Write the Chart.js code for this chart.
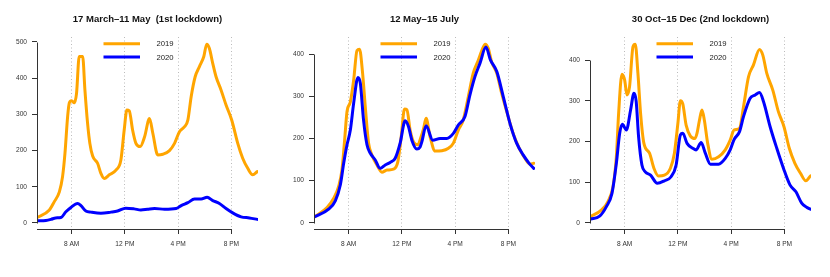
<!DOCTYPE html>
<html>
<head>
<meta charset="utf-8">
<script src="https://cdn.jsdelivr.net/npm/chart.js@4.4.1/dist/chart.umd.min.js"></script>
<style>
  html, body { margin: 0; padding: 0; background: #fff; }
  #wrap { position: relative; width: 830px; height: 277px; overflow: hidden; }
  canvas { position: absolute; top: 0; }
</style>
</head>
<body>
<div id="wrap">
  <canvas id="c1" width="277" height="277" style="left:0px"></canvas>
  <canvas id="c2" width="277" height="277" style="left:277px"></canvas>
  <canvas id="c3" width="277" height="277" style="left:553px"></canvas>
</div>
<script>
// hour of day (decimal) and count

// panel 1: 17 March - 11 May
const p1Hours2019 = [5.40, 6.33, 6.70, 7.08, 7.32, 7.50, 7.70, 7.83, 8.00, 8.20, 8.37, 8.57, 8.83, 9.00, 9.20, 9.37, 9.58, 9.95, 10.20, 10.45, 10.83, 11.33, 11.70, 11.95, 12.15, 12.33, 12.58, 12.83, 13.15, 13.48, 13.85, 14.10, 14.47, 14.85, 15.35, 15.73, 16.10, 16.48, 16.73, 16.98, 17.28, 17.60, 17.93, 18.15, 18.35, 18.60, 18.85, 19.23, 19.60, 20.03, 20.48, 20.85, 21.23, 21.60, 21.95];
const p1Vals2019  = [15, 36, 59, 86, 128, 192, 294, 332, 338, 332, 358, 460, 460, 367, 275, 220, 185, 165, 137, 123, 133, 146, 174, 257, 312, 310, 257, 220, 211, 238, 289, 248, 188, 190, 200, 220, 252, 266, 284, 349, 404, 432, 460, 494, 482, 441, 404, 367, 326, 284, 220, 179, 151, 133, 142];
const p1Hours2020 = [5.40, 6.07, 6.45, 6.80, 7.20, 7.57, 7.95, 8.45, 8.70, 9.07, 9.45, 10.20, 10.95, 11.45, 12.07, 12.70, 13.20, 13.70, 14.23, 14.98, 15.85, 16.23, 16.73, 17.23, 17.73, 18.18, 18.60, 19.10, 19.60, 20.10, 20.73, 21.35, 21.95];
const p1Vals2020  = [6, 7, 10, 14, 15, 31, 43, 54, 48, 33, 30, 27, 30, 33, 41, 39, 36, 38, 40, 38, 40, 48, 56, 66, 66, 71, 62, 54, 40, 28, 17, 14, 10];

// panel 2: 12 May - 15 July
const p2Hours2019 = [5.45, 6.38, 6.88, 7.25, 7.50, 7.70, 7.88, 8.13, 8.38, 8.63, 8.82, 9.05, 9.25, 9.50, 9.75, 10.13, 10.50, 10.88, 11.37, 11.70, 11.95, 12.20, 12.38, 12.62, 12.87, 13.20, 13.40, 13.62, 13.82, 14.12, 14.50, 15.00, 15.50, 15.87, 16.24, 16.61, 16.99, 17.36, 17.74, 18.07, 18.26, 18.49, 18.74, 19.13, 19.50, 19.91, 20.36, 20.81, 21.24, 21.61, 21.91];
const p2Vals2019  = [14, 36, 58, 86, 125, 196, 264, 287, 339, 409, 412, 355, 276, 189, 161, 137, 120, 125, 127, 145, 204, 270, 268, 220, 192, 185, 200, 222, 248, 204, 170, 171, 177, 189, 220, 244, 299, 355, 386, 414, 424, 414, 382, 355, 307, 260, 212, 177, 153, 139, 141];
const p2Hours2020 = [5.45, 6.50, 7.00, 7.38, 7.63, 7.88, 8.13, 8.38, 8.70, 8.88, 9.12, 9.38, 9.63, 10.00, 10.37, 10.75, 11.12, 11.50, 11.87, 12.25, 12.50, 12.75, 13.12, 13.37, 13.50, 13.82, 14.32, 14.87, 15.37, 15.87, 16.24, 16.74, 17.11, 17.49, 17.87, 18.31, 18.66, 19.13, 19.62, 20.12, 20.62, 21.11, 21.56, 21.91];
const p2Vals2020  = [14, 32, 52, 90, 141, 185, 220, 284, 345, 331, 244, 185, 165, 149, 129, 137, 143, 153, 189, 242, 228, 196, 175, 180, 192, 230, 196, 200, 200, 212, 232, 252, 303, 347, 379, 417, 386, 359, 299, 236, 189, 161, 141, 129];

// panel 3: 30 Oct - 15 Dec
const p3Hours2019 = [5.44, 6.25, 6.75, 7.13, 7.38, 7.55, 7.80, 8.00, 8.18, 8.37, 8.63, 8.80, 9.00, 9.20, 9.45, 9.87, 10.20, 10.54, 10.99, 11.44, 11.74, 12.00, 12.19, 12.37, 12.62, 12.94, 13.29, 13.44, 13.61, 13.81, 13.99, 14.24, 14.56, 15.06, 15.56, 15.93, 16.23, 16.63, 16.93, 17.31, 17.68, 18.13, 18.38, 18.68, 19.13, 19.55, 19.97, 20.37, 20.79, 21.22, 21.61, 21.96];
const p3Vals2019  = [15, 31, 52, 89, 162, 269, 365, 351, 314, 334, 433, 439, 367, 269, 195, 171, 134, 115, 117, 134, 171, 244, 300, 292, 240, 213, 207, 220, 250, 277, 252, 195, 156, 162, 179, 203, 228, 232, 285, 359, 388, 426, 412, 367, 326, 273, 236, 183, 146, 121, 103, 115];
const p3Hours2020 = [5.44, 6.12, 6.62, 7.05, 7.38, 7.63, 7.83, 8.13, 8.45, 8.70, 8.87, 9.05, 9.30, 9.55, 9.95, 10.45, 10.99, 11.49, 11.87, 12.19, 12.37, 12.69, 13.12, 13.37, 13.75, 14.06, 14.44, 15.06, 15.56, 15.93, 16.23, 16.63, 16.93, 17.43, 17.81, 18.13, 18.43, 18.93, 19.43, 19.93, 20.42, 20.87, 21.30, 21.67, 21.96];
const p3Vals2020  = [9, 16, 39, 72, 146, 220, 242, 228, 277, 318, 298, 211, 142, 125, 117, 97, 103, 113, 142, 216, 220, 195, 183, 179, 197, 171, 144, 144, 158, 179, 205, 224, 261, 306, 314, 320, 298, 236, 183, 134, 93, 76, 48, 38, 33];

const seriesLabels = ['2019', '2020'];
const xTickHours = [8, 12, 16, 20];
const xTickLabels = ['8 AM', '12 PM', '4 PM', '8 PM'];
const yTicks1 = [0, 100, 200, 300, 400, 500];
const yTicks23 = [0, 100, 200, 300, 400];

const ORANGE = '#FFA500';
const BLUE = '#0000FF';
const FONT = '"Liberation Sans", Arial, Helvetica, sans-serif';

function toPoints(hours, vals) {
    return hours.map((h, i) => ({ x: h, y: vals[i] }));
}

// axis lines the R way (only between end ticks) plus the boxless legend
const rDecor = {
    id: 'rDecor',
    afterDraw(chart, args, opts) {
        const { ctx, chartArea: a, scales: { x, y } } = chart;
        const yt = opts.yTicks;
        ctx.save();
        ctx.strokeStyle = '#333';
        ctx.lineWidth = 1;
        ctx.beginPath();
        const lx = Math.round(a.left) + 0.5;
        ctx.moveTo(lx, Math.round(y.getPixelForValue(yt[0])) + 0.5);
        ctx.lineTo(lx, Math.round(y.getPixelForValue(yt[yt.length - 1])) + 0.5);
        const by = Math.round(a.bottom) + 0.5;
        ctx.moveTo(a.left, by);
        ctx.lineTo(Math.round(x.getPixelForValue(xTickHours[xTickHours.length - 1])) + 1, by);
        ctx.stroke();

        // legend
        const rows = [43.7, 57];
        chart.data.datasets.forEach((ds, i) => {
            ctx.strokeStyle = ds.borderColor;
            ctx.lineWidth = 3;
            ctx.lineCap = 'butt';
            ctx.beginPath();
            ctx.moveTo(103.5, rows[i]);
            ctx.lineTo(140, rows[i]);
            ctx.stroke();
            ctx.fillStyle = '#222';
            ctx.font = '7.7px ' + FONT;
            ctx.textAlign = 'left';
            ctx.textBaseline = 'middle';
            ctx.fillText(ds.label, 156.5, rows[i] + 0.5);
        });
        ctx.restore();
    }
};

function makePanel(id, title, h19, v19, h20, v20, yMin, yMax, yTicks) {
    return new Chart(document.getElementById(id), {
        type: 'line',
        data: {
            datasets: [{
                label: seriesLabels[0],
                data: toPoints(h19, v19),
                borderColor: ORANGE,
                order: 2
            }, {
                label: seriesLabels[1],
                data: toPoints(h20, v20),
                borderColor: BLUE,
                order: 1
            }]
        },
        options: {
            responsive: false,
            animation: false,
            devicePixelRatio: 1,
            layout: { padding: { left: 0, right: 19, top: 0, bottom: 0 } },
            elements: {
                point: { radius: 0 },
                line: {
                    borderWidth: 3,
                    cubicInterpolationMode: 'monotone',
                    borderCapStyle: 'round',
                    borderJoinStyle: 'round',
                    fill: false
                }
            },
            plugins: {
                legend: { display: false },
                tooltip: { enabled: false },
                title: {
                    display: true,
                    text: title,
                    fullSize: false,
                    color: '#111',
                    font: { family: FONT, size: 9.5, weight: 'bold', lineHeight: 1.2 },
                    padding: { top: 13.3, bottom: 12.3 }
                },
                rDecor: { yTicks: yTicks }
            },
            scales: {
                x: {
                    type: 'linear',
                    min: 5.4,
                    max: 22,
                    afterBuildTicks: (s) => { s.ticks = xTickHours.map(v => ({ value: v })); },
                    afterFit: (s) => { s.height = 48; },
                    ticks: {
                        autoSkip: false,
                        maxRotation: 0,
                        padding: 6.3,
                        color: '#333',
                        font: { family: FONT, size: 6.6 },
                        callback: (v) => xTickLabels[xTickHours.indexOf(v)]
                    },
                    grid: {
                        color: '#bbbbbb',
                        tickColor: '#333',
                        tickLength: 5,
                        tickBorderDash: []
                    },
                    border: { display: false, dash: [1, 2.5] }
                },
                y: {
                    min: yMin,
                    max: yMax,
                    afterBuildTicks: (s) => { s.ticks = yTicks.map(v => ({ value: v })); },
                    afterFit: (s) => { s.width = 37; },
                    ticks: {
                        padding: 5,
                        color: '#333',
                        font: { family: FONT, size: 6.6 }
                    },
                    grid: {
                        drawOnChartArea: false,
                        color: '#333',
                        tickLength: 5
                    },
                    border: { display: false }
                }
            }
        },
        plugins: [rDecor]
    });
}

makePanel('c1', '17 March\u201311 May  (1st lockdown)', p1Hours2019, p1Vals2019, p1Hours2020, p1Vals2020, -16.6, 513.8, yTicks1);
makePanel('c2', '12 May\u201315 July', p2Hours2019, p2Vals2019, p2Hours2020, p2Vals2020, -15, 441, yTicks23);
makePanel('c3', '30 Oct\u201315 Dec (2nd lockdown)', p3Hours2019, p3Vals2019, p3Hours2020, p3Vals2020, -15.5, 456.6, yTicks23);
</script>
</body>
</html>
